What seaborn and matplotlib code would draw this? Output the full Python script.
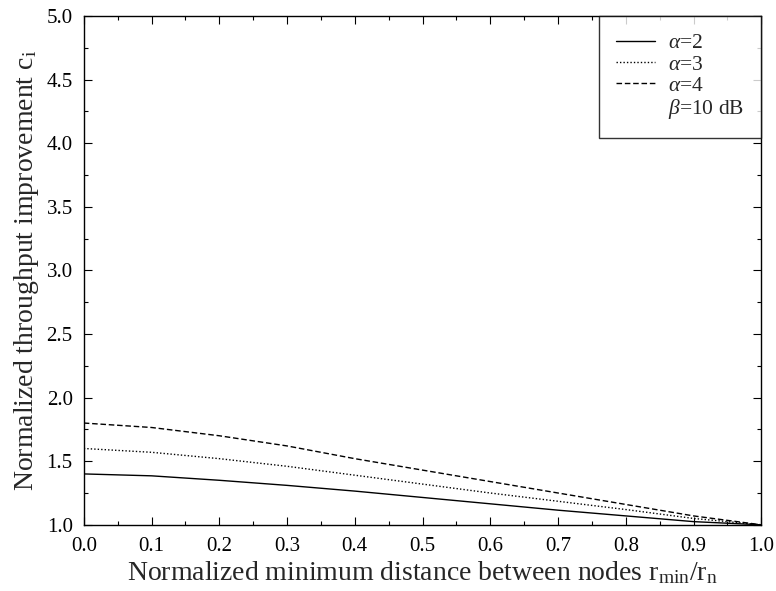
import numpy as np
import pandas as pd
import matplotlib
matplotlib.use("Agg")
import matplotlib.pyplot as plt
import seaborn as sns
from matplotlib.lines import Line2D
from matplotlib.ticker import MultipleLocator

x_vals = [0.0, 0.1, 0.2, 0.3, 0.4, 0.5, 0.6, 0.7, 0.8, 0.9, 1.0]
alpha2 = [1.40, 1.385, 1.35, 1.31, 1.265, 1.215, 1.165, 1.115, 1.07, 1.025, 1.00]
alpha3 = [1.60, 1.57, 1.52, 1.46, 1.39, 1.32, 1.25, 1.185, 1.12, 1.05, 1.00]
alpha4 = [1.80, 1.765, 1.70, 1.62, 1.52, 1.43, 1.34, 1.25, 1.16, 1.07, 1.00]
series_labels = [r"$\alpha$=2", r"$\alpha$=3", r"$\alpha$=4"]
x_ticks = [0.0, 0.1, 0.2, 0.3, 0.4, 0.5, 0.6, 0.7, 0.8, 0.9, 1.0]
y_ticks = [1.0, 1.5, 2.0, 2.5, 3.0, 3.5, 4.0, 4.5, 5.0]

sns.set_theme(style="ticks")
plt.rcParams["font.family"] = ["Liberation Serif", "DejaVu Serif"]
plt.rcParams["mathtext.fontset"] = "custom"
plt.rcParams["mathtext.rm"] = "Liberation Serif"
plt.rcParams["mathtext.it"] = "Liberation Serif:italic"
plt.rcParams["mathtext.bf"] = "Liberation Serif:bold"

df = pd.DataFrame({
    "x": x_vals * 3,
    "y": alpha2 + alpha3 + alpha4,
    "series": [series_labels[0]] * len(x_vals) + [series_labels[1]] * len(x_vals) + [series_labels[2]] * len(x_vals),
})

fig = plt.figure(figsize=(7.76, 5.91), dpi=100)
ax = fig.add_axes([0.108, 0.112, 0.873, 0.861])

dash_map = {series_labels[0]: "", series_labels[1]: (1, 1.5), series_labels[2]: (4, 2)}
sns.lineplot(data=df, x="x", y="y", style="series", dashes=dash_map,
             color="black", linewidth=1.0, ax=ax, legend=False)

ax.set_xlim(0, 1.0)
ax.set_ylim(1.0, 5.0)
ax.set_xticks(x_ticks)
ax.set_xticklabels([f"{t:.1f}" for t in x_ticks])
ax.set_yticks(y_ticks)
ax.set_yticklabels([f"{t:.1f}" for t in y_ticks])
ax.xaxis.set_minor_locator(MultipleLocator(0.05))
ax.yaxis.set_minor_locator(MultipleLocator(0.25))
ax.tick_params(which="both", direction="in", top=True, right=True, colors="black",
               labelsize=15, width=0.8)
ax.tick_params(which="major", length=6)
ax.tick_params(which="minor", length=3)
ax.tick_params(axis="x", which="major", pad=9)
ax.tick_params(axis="y", which="major", pad=8)
for s in ax.spines.values():
    s.set_color("black")
    s.set_linewidth(1.0)

ax.set_xlabel(r"Normalized minimum distance between nodes r$_{\mathrm{min}}$/r$_{\mathrm{n}}$",
              fontsize=20, labelpad=2)
ax.set_ylabel(r"Normalized throughput improvement c$_{\mathrm{i}}$", fontsize=20, labelpad=4)

handles = [
    Line2D([], [], color="black", lw=1.0, linestyle="-"),
    Line2D([], [], color="black", lw=1.0, linestyle=(0, (1, 1.5))),
    Line2D([], [], color="black", lw=1.0, linestyle=(0, (4, 2))),
    Line2D([], [], color="none", lw=0),
]
labels = series_labels + [r"$\beta$=10 dB"]
leg = ax.legend(handles, labels, loc="upper right", fontsize=15.5, frameon=True,
                fancybox=False, edgecolor="black", borderaxespad=0,
                handlelength=1.8, labelspacing=0.06, borderpad=0.8, handletextpad=0.6)
leg.get_frame().set_linewidth(1.0)

fig.savefig("out.png", dpi=100)
